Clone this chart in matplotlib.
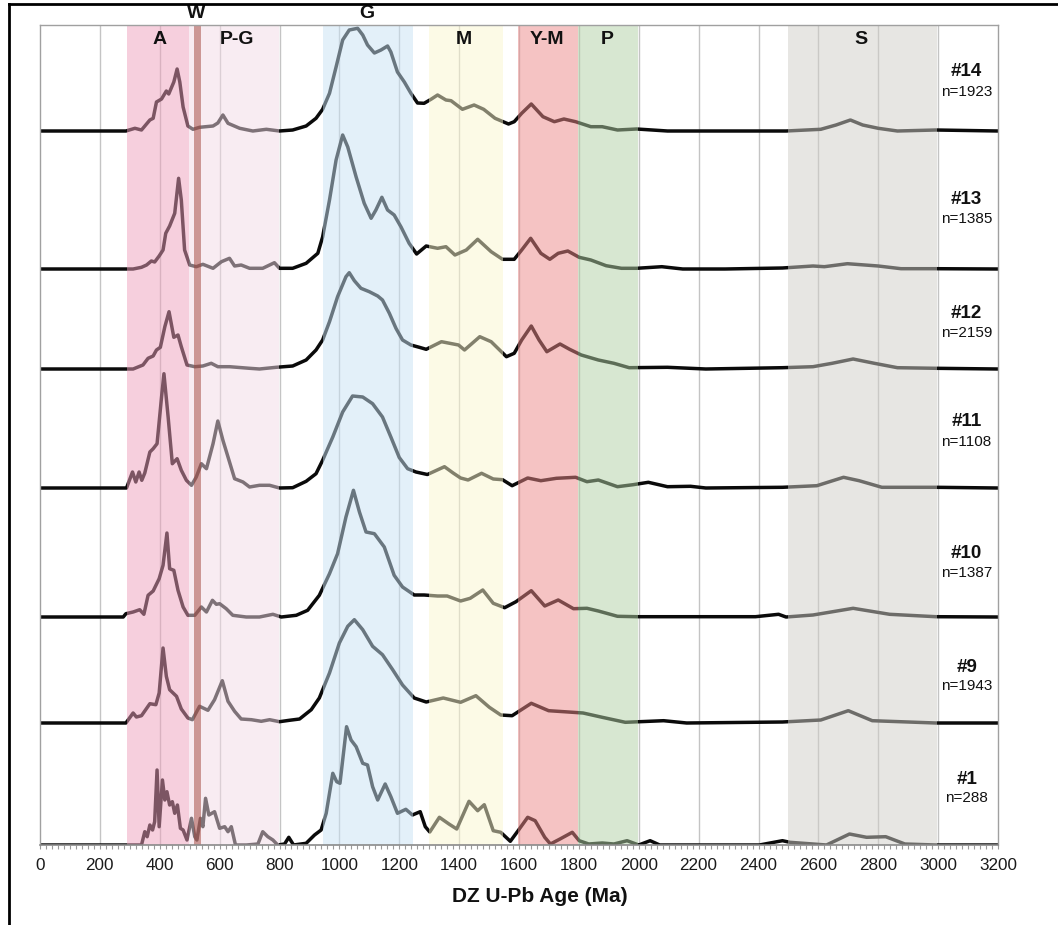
import matplotlib
matplotlib.use("Agg")
import matplotlib.pyplot as plt
from matplotlib.lines import Line2D

plt.rcParams['font.family'] = ['Liberation Sans', 'DejaVu Sans']

# ---------------- data ----------------
sample_names = ["#14", "#13", "#12", "#11", "#10", "#9", "#1"]
sample_n = ["n=1923", "n=1385", "n=2159", "n=1108", "n=1387", "n=1943", "n=288"]
# baseline offsets of each stacked curve (plot units)
sample_offsets = [714, 576, 476, 357, 228, 122, 0]

# (age Ma, relative probability height)
s14 = [(0, 0), (287, 0), (317, 2.7), (339, 1), (367, 11), (378, 12.7), (389, 29), (406, 32),
       (422, 40), (430, 37), (447, 49), (458, 62), (467, 49), (478, 24), (494, 5), (511, 1.7),
       (533, 3.7), (578, 5), (594, 8), (611, 16), (628, 7.7), (667, 2.7), (711, 0), (756, 1.7),
       (800, 0), (844, 1), (889, 5), (922, 12.7), (944, 21.7), (967, 37.7), (989, 64), (1011, 91),
       (1033, 101), (1061, 102.7), (1078, 96), (1094, 86), (1117, 78), (1139, 81), (1161, 85),
       (1172, 79), (1194, 59), (1217, 49), (1239, 37.7), (1261, 28), (1283, 27.7), (1306, 31.7),
       (1328, 36), (1356, 31), (1373, 30.3), (1411, 21.7), (1450, 26), (1482, 21.7), (1520, 12.7),
       (1565, 7), (1584, 9.3), (1609, 17.7), (1641, 27), (1680, 14.3), (1718, 9.3), (1750, 12),
       (1789, 9.3), (1840, 4.3), (1878, 4.3), (1929, 1), (1993, 2), (2096, 0), (2492, 0),
       (2608, 1.7), (2659, 6), (2707, 11), (2748, 6), (2800, 2.7), (2864, 0), (2992, 1), (3200, 0)]

s13 = [(0, 0), (311, 0), (339, 1.7), (356, 4), (372, 8), (383, 7), (398, 13), (411, 19),
       (420, 35.7), (433, 43), (450, 55.7), (463, 90.7), (472, 69), (483, 19), (500, 4), (522, 2.3),
       (544, 4.7), (578, 0.7), (606, 7.3), (633, 10.7), (650, 3), (672, 4), (700, 0.7), (744, 0.7),
       (783, 6.3), (800, 0.7), (844, 0.7), (889, 5.7), (928, 15.7), (944, 32), (967, 69), (989, 109),
       (1011, 134), (1028, 122), (1056, 92), (1083, 65.7), (1106, 50.7), (1122, 59), (1142, 71.7),
       (1161, 59), (1183, 54), (1206, 42), (1233, 25.7), (1258, 15), (1290, 23), (1328, 20.7),
       (1356, 22.3), (1386, 14), (1424, 19), (1462, 29.7), (1507, 17.3), (1545, 9.7), (1584, 9.7),
       (1609, 19), (1639, 30.7), (1673, 15.7), (1703, 9.7), (1731, 15.7), (1763, 18), (1801, 11.7),
       (1840, 9), (1891, 3.3), (1942, 0.7), (1993, 0.7), (2077, 2.3), (2147, 0), (2288, 0),
       (2480, 1), (2582, 3), (2620, 2.3), (2697, 5.3), (2800, 3), (2876, 0.3), (2992, 0.3), (3200, 0)]

s12 = [(0, 0), (311, 0), (344, 4), (361, 10.7), (378, 13), (389, 19), (402, 21.7), (417, 42.3),
       (431, 57.3), (447, 31.7), (461, 34), (472, 22.3), (491, 4), (517, 2.3), (544, 3), (572, 5.7),
       (594, 2.3), (633, 2.3), (700, 0.7), (733, 0), (789, 1.7), (844, 3), (889, 9), (922, 19),
       (944, 29), (967, 47.3), (994, 72.3), (1022, 92.3), (1033, 96.3), (1050, 88.3), (1072, 80.7),
       (1100, 77.3), (1128, 73), (1144, 69), (1167, 55.7), (1189, 40.7), (1211, 29), (1239, 24),
       (1267, 21.7), (1290, 19.7), (1341, 27.3), (1398, 24), (1418, 19), (1469, 32.3), (1507, 27.3),
       (1558, 12.3), (1584, 15.7), (1609, 29), (1641, 43), (1667, 29), (1693, 17.3), (1737, 25),
       (1769, 19.7), (1808, 14), (1865, 9), (1917, 5.7), (1968, 1.3), (2096, 1.7), (2224, 0),
       (2480, 1.3), (2582, 2.3), (2646, 5.7), (2716, 10), (2787, 5.7), (2864, 1.3), (2992, 0.7),
       (3200, 0)]

s11 = [(0, 0), (289, 0), (309, 16), (320, 6), (331, 16), (340, 7.7), (350, 15), (367, 36),
       (378, 39.3), (391, 44.3), (406, 91), (414, 114.3), (428, 71), (442, 24.3), (458, 29.3),
       (472, 17.7), (489, 7.7), (506, 2.7), (522, 11), (539, 24.3), (556, 19.3), (578, 44.3),
       (594, 67), (611, 47.7), (628, 31), (650, 9.3), (678, 6), (700, 1), (733, 2.7), (767, 2.7),
       (800, 0), (844, 0.3), (889, 6.7), (922, 14.3), (944, 27.7), (978, 51), (1011, 76), (1044, 92),
       (1078, 91), (1111, 84.3), (1144, 71), (1172, 51), (1200, 30.5), (1228, 19.3), (1256, 16),
       (1294, 13.5), (1351, 21.3), (1380, 15), (1405, 10), (1430, 8), (1475, 14.7), (1514, 9),
       (1545, 8.3), (1577, 2.3), (1629, 10), (1673, 7.3), (1725, 9.7), (1789, 10.7), (1827, 6.3),
       (1865, 8), (1929, 1.3), (1981, 3.3), (2032, 5.7), (2096, 1.3), (2173, 1.7), (2224, 0),
       (2480, 0.7), (2595, 2.3), (2684, 10.7), (2736, 7.3), (2812, 0.7), (2992, 0.7), (3200, 0)]

s10 = [(0, 0), (278, 0), (287, 3.3), (311, 5), (333, 7.3), (347, 2.7), (361, 21.7), (378, 26),
       (398, 38.3), (411, 51.7), (424, 84), (433, 48.3), (447, 46.7), (461, 26.7), (478, 10),
       (494, 1.7), (517, 1.7), (539, 10), (556, 5), (576, 16.7), (589, 12.7), (600, 13.3),
       (622, 8.3), (644, 1.7), (689, 0), (733, 0), (778, 2.7), (806, 0), (856, 1.7), (894, 6.7),
       (933, 21.7), (967, 43.3), (994, 63.3), (1022, 100), (1047, 126.7), (1067, 105), (1089, 85),
       (1117, 83.3), (1150, 70), (1183, 41.7), (1211, 30), (1250, 22), (1283, 22), (1328, 21),
       (1360, 21), (1405, 16), (1437, 18.7), (1479, 27), (1514, 13.7), (1552, 9.3), (1590, 15.3),
       (1641, 26.3), (1686, 11), (1731, 17), (1782, 8.3), (1827, 8.7), (1865, 6), (1929, 0.7),
       (1993, 0.3), (2198, 0.3), (2390, 0.3), (2467, 2.7), (2492, 0), (2582, 2), (2716, 8.7),
       (2838, 2.7), (2992, 0.3), (3200, 0)]

s9 = [(0, 0), (287, 0), (311, 10), (322, 6), (339, 7.3), (367, 19.3), (387, 18.3), (398, 30),
      (411, 75), (422, 46.7), (433, 33.3), (456, 26.7), (472, 14), (494, 5), (509, 3.3),
      (533, 16.7), (561, 12.7), (583, 23.3), (609, 42.3), (628, 21.7), (650, 11.7), (672, 4),
      (706, 3.3), (739, 1.7), (767, 3.3), (800, 1.3), (833, 2.7), (867, 4), (906, 13.3), (933, 25),
      (967, 50), (1000, 80), (1028, 96.7), (1050, 103.3), (1078, 93.3), (1111, 76.7), (1144, 68.3),
      (1178, 53.3), (1211, 38), (1250, 25), (1290, 21), (1347, 25), (1405, 20.7), (1456, 27.3),
      (1501, 15.7), (1539, 8), (1577, 7.3), (1641, 19.7), (1699, 12.3), (1750, 11.3), (1814, 10),
      (1878, 5.7), (1955, 0.7), (2083, 2.3), (2160, 0), (2480, 1), (2608, 3), (2700, 12.3),
      (2780, 2.3), (2992, 0), (3200, 0)]

s1 = [(0, 0), (339, 0), (350, 13.3), (358, 8.3), (367, 20), (376, 15), (383, 23.3), (391, 75),
      (398, 18.3), (409, 65), (417, 45), (424, 53.3), (433, 40), (442, 43.3), (450, 31.7),
      (459, 40), (469, 16.7), (478, 15), (491, 5), (506, 26.7), (517, 8.3), (524, 5), (536, 26.7),
      (544, 18.3), (553, 46.7), (564, 30), (583, 33.3), (600, 16.7), (617, 18.3), (628, 13.3),
      (639, 18.3), (653, 0), (689, 0), (728, 1), (744, 13.3), (761, 8.3), (778, 5), (794, 0),
      (817, 1), (831, 7.7), (847, 0), (889, 1.7), (917, 10), (939, 15), (956, 31.7), (978, 71.7),
      (991, 63.3), (1002, 61.7), (1024, 118.3), (1039, 105), (1056, 98.3), (1078, 81.7), (1094, 80),
      (1111, 58.3), (1128, 45), (1153, 61), (1172, 48.3), (1194, 31.7), (1222, 35.7), (1244, 30),
      (1270, 33.3), (1287, 18.3), (1302, 13), (1334, 27.7), (1366, 21), (1392, 16), (1433, 43.7),
      (1462, 34.3), (1484, 40.3), (1514, 14.3), (1539, 12.7), (1571, 3.7), (1597, 14.3),
      (1629, 27.7), (1654, 24.3), (1686, 7.7), (1705, 1), (1737, 6), (1778, 12.7), (1801, 4.3),
      (1833, 1), (1878, 2), (1917, 1), (1961, 4.3), (2000, 0), (2038, 4.3), (2070, 0), (2403, 0),
      (2480, 4.3), (2505, 2.7), (2582, 1), (2627, 0), (2704, 11), (2761, 7.7), (2825, 8.3),
      (2889, 1), (2992, 0), (3200, 0)]

sample_curves = [s14, s13, s12, s11, s10, s9, s1]

# age bands (W drawn after P-G so it sits on top)
band_names = ["A", "P-G", "W", "G", "M", "Y-M", "P", "S"]
band_start = [289, 497, 516, 945, 1298, 1597, 1797, 2497]
band_end = [497, 797, 537, 1247, 1547, 1797, 1997, 2997]
band_label_age = [400, 657, 523, 1092, 1417, 1692, 1893, 2742]

x_ticks = list(range(0, 3201, 200))

# ---------------- figure ----------------
W, H = 1058, 925
fig = plt.figure(figsize=(W / 100, H / 100), dpi=100)
L, R, T, B = 40, 998, 25, 845
ax = fig.add_axes([L / W, 1 - B / H, (R - L) / W, (B - T) / H])
ax.set_xlim(0, 3200)
ax.set_ylim(0, 820)

band_colors = ["#EFA1BD", "#F3DBE7", "#A1443A", "#C9E3F5", "#FBF7CF", "#ED8989", "#B1D1A5", "#D1CFC9"]
band_label_high = [False, False, True, True, False, False, False, False]

# grid
for xv in x_ticks[1:-1]:
    ax.axvline(xv, color="#c4c4c4", lw=1.0, zorder=1)

# curves
for curve, off in zip(sample_curves, sample_offsets):
    ages = [p[0] for p in curve]
    hts = [p[1] + off for p in curve]
    ax.plot(ages, hts, color="#0a0a0a", lw=2.5, zorder=2,
            solid_joinstyle="round", solid_capstyle="round")

# bands overlay (semi-transparent, over the curves)
for s, e, c in zip(band_start, band_end, band_colors):
    ax.axvspan(s, e, color=c, alpha=0.5, lw=0, zorder=3)

# band labels
for name, xa, high in zip(band_names, band_label_age, band_label_high):
    yv = 832 if high else 805
    ax.text(xa, yv, name, ha="center", va="center", fontsize=14, fontweight="bold",
            color="#111111", zorder=6, clip_on=False)

# sample labels
label_y = [773, 646, 532, 423, 292, 178, 65]
nlabel_y = [753, 626, 512, 403, 272, 159, 47]
for nm, nn, y1, y2 in zip(sample_names, sample_n, label_y, nlabel_y):
    ax.text(3095, y1, nm, ha="center", va="center", fontsize=13.5, fontweight="bold",
            color="#111111", zorder=6)
    ax.text(3095, y2, nn, ha="center", va="center", fontsize=11, color="#111111", zorder=6)

# axes styling
for sp in ["top", "left", "right"]:
    ax.spines[sp].set_color("#a0a0a0")
    ax.spines[sp].set_linewidth(1.0)
ax.spines["bottom"].set_color("#8a8a8a")
ax.spines["bottom"].set_linewidth(1.2)
for sp in ax.spines.values():
    sp.set_zorder(7)
ax.set_yticks([])
ax.set_xticks(x_ticks)
ax.set_xticklabels([str(v) for v in x_ticks], fontsize=12.3, color="#1a1a1a")
ax.set_xticks(range(0, 3201, 20), minor=True)
ax.tick_params(axis="x", which="both", direction="out", length=3, width=0.8,
               color="#9a9a9a", pad=6)

fig.text(540 / W, 1 - 897 / H, "DZ U-Pb Age (Ma)", ha="center", va="center",
         fontsize=15, fontweight="bold", color="#111111")

# outer frame (top and left edges)
fig.add_artist(Line2D([9 / W, 1.0], [1 - 4 / H, 1 - 4 / H], color="black", lw=2.0,
                      transform=fig.transFigure))
fig.add_artist(Line2D([9 / W, 9 / W], [0, 1 - 4 / H], color="black", lw=2.0,
                      transform=fig.transFigure))

fig.savefig("out.png", dpi=100)
